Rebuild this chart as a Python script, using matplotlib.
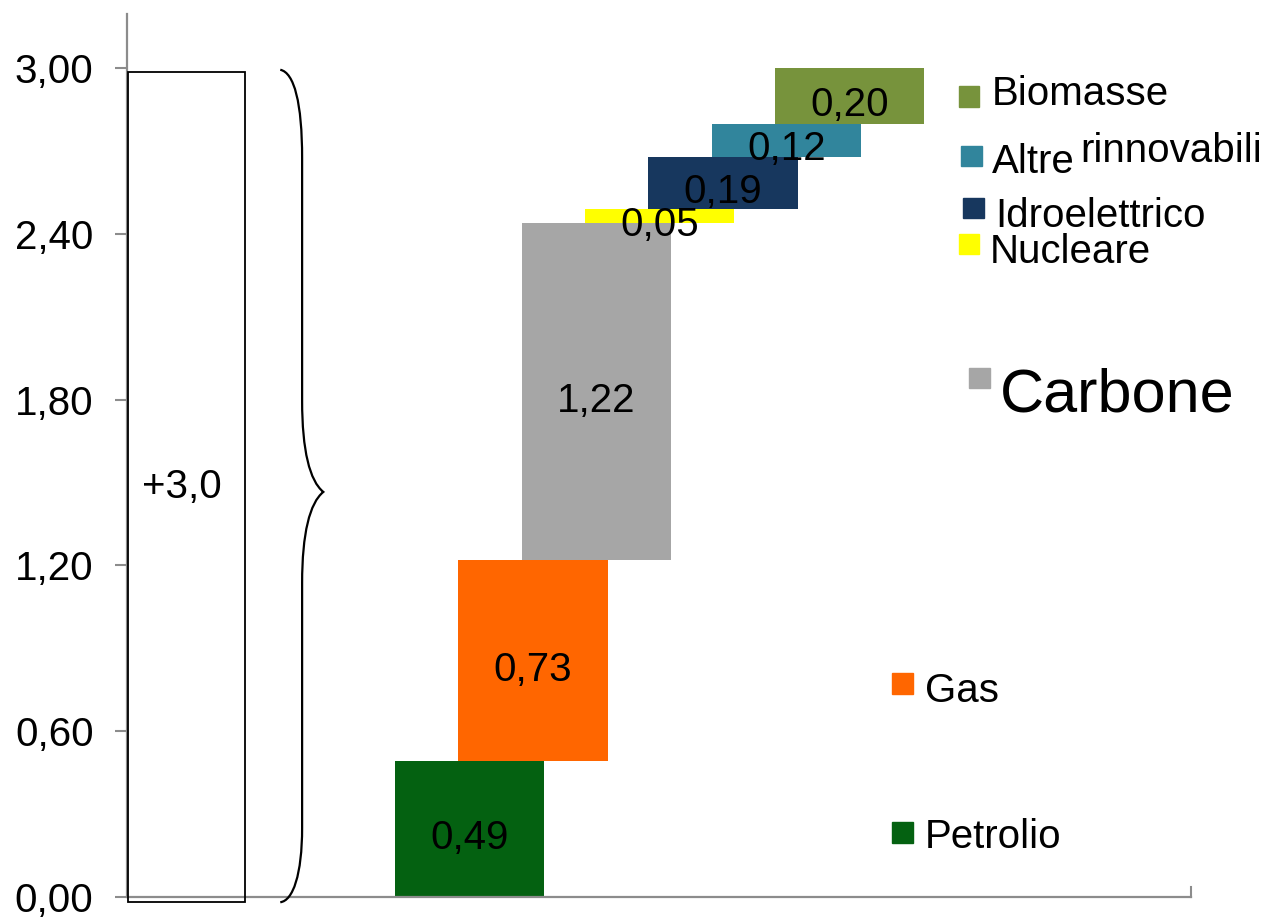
import matplotlib
matplotlib.use("Agg")
import matplotlib.pyplot as plt
from matplotlib.patches import Rectangle, PathPatch
from matplotlib.path import Path
import numpy as np

# ---------------- data ----------------
categories = ["Petrolio", "Gas", "Carbone", "Nucleare", "Idroelettrico",
              "Altre rinnovabili", "Biomasse"]
values = [0.49, 0.73, 1.22, 0.05, 0.19, 0.12, 0.20]
value_labels = ["0,49", "0,73", "1,22", "0,05", "0,19", "0,12", "0,20"]
colors = ["#046111", "#ff6600", "#a6a6a6", "#ffff00", "#17375e",
          "#31859c", "#77933c"]
yticks = [0.0, 0.6, 1.2, 1.8, 2.4, 3.0]
ytick_labels = ["0,00", "0,60", "1,20", "1,80", "2,40", "3,00"]
total_label = "+3,0"

plt.rcParams['font.family'] = ['Liberation Sans', 'DejaVu Sans']

W, H = 1265, 921
fig = plt.figure(figsize=(W / 100, H / 100), dpi=100)
ax = fig.add_axes([127 / W, (H - 896.7) / H, (1191 - 127) / W, (896.7 - 14) / H])

GRAY = "#8c8c8c"
FS = 29

# ---------------- waterfall bars ----------------
x = np.arange(len(values))
bottoms = np.concatenate([[0], np.cumsum(values)[:-1]])
total = float(np.sum(values))
ax.bar(x, values, width=2.36, bottom=bottoms, color=colors, zorder=2)

for xi, b, v, lab in zip(x, bottoms, values, value_labels):
    ax.annotate(lab, (xi, b + v / 2), xytext=(0, -14.5), textcoords="offset points",
                ha="center", va="baseline", fontsize=FS, color="black", zorder=4)

ax.set_xlim(-5.41, 11.39)
ax.set_ylim(0, 3.197)

# ---------------- total box and brace ----------------
box_left, box_w = -5.39, 1.85
ax.add_patch(Rectangle((box_left, -0.02), box_w, total + 0.007, fill=False,
                       edgecolor="black", lw=1.3, clip_on=False, zorder=3))
ax.annotate(total_label, (box_left + box_w / 2 - 0.08, total / 2), xytext=(0, -11),
            textcoords="offset points", ha="center", va="baseline", fontsize=FS)

x0, x1, x2 = -2.99, -2.645, -2.31
ytop, ybot = total - 0.005, -0.02
ymid = 1.466
verts = [
    (x0, ytop),
    (x0 + 0.22, ytop - 0.01), (x1, ytop - 0.12), (x1, ytop - 0.32),
    (x1, ymid + 0.33),
    (x1, ymid + 0.15), (x1 + 0.12, ymid + 0.04), (x2, ymid),
    (x1 + 0.12, ymid - 0.04), (x1, ymid - 0.15), (x1, ymid - 0.33),
    (x1, ybot + 0.27),
    (x1, ybot + 0.1), (x0 + 0.2, ybot + 0.005), (x0, ybot),
]
codes = [Path.MOVETO,
         Path.CURVE4, Path.CURVE4, Path.CURVE4,
         Path.LINETO,
         Path.CURVE4, Path.CURVE4, Path.CURVE4,
         Path.CURVE4, Path.CURVE4, Path.CURVE4,
         Path.LINETO,
         Path.CURVE4, Path.CURVE4, Path.CURVE4]
ax.add_patch(PathPatch(Path(verts, codes), fill=False, edgecolor="black",
                       lw=1.6, clip_on=False, zorder=3))

# ---------------- axes styling ----------------
for s in ("top", "right"):
    ax.spines[s].set_visible(False)
for s in ("left", "bottom"):
    ax.spines[s].set_color(GRAY)
    ax.spines[s].set_linewidth(1.6)
ax.set_xticks([])
ax.set_yticks(yticks, ytick_labels)
ax.tick_params(axis="y", direction="out", length=8.6, width=1.5, color=GRAY,
               labelsize=FS, pad=15.5, labelcolor="black")
ax.plot([1, 1], [0, 0.011], transform=ax.transAxes, color=GRAY, lw=1.5,
        clip_on=False)

# ---------------- legend-like labels ----------------
def px(xp, yp):
    return xp / W, 1 - yp / H

def square(xp, yp, size, color):
    fx, fy = px(xp, yp + size)
    fig.patches.append(Rectangle((fx, fy), size / W, size / H, color=color,
                                 transform=fig.transFigure, figure=fig))

# (category index, square x, square y, text x, baseline y, fontsize)
legend_layout = [
    (6, 959, 86, 992, 105, FS),
    (4, 963, 198, 995, 227, FS),
    (3, 959, 234, 990, 263, FS),
    (2, 969, 368, 1000, 411, 44),
    (1, 892, 673, 925, 702, FS),
    (0, 892, 822, 925, 848, FS),
]
for idx, sx, sy, tx, ty, fs in legend_layout:
    square(sx, sy, 20.5, colors[idx])
    fx, fy = px(tx, ty)
    fig.text(fx, fy, categories[idx], ha="left", va="baseline", fontsize=fs)

# "Altre rinnovabili" with the second word raised
square(961, 146, 20.5, colors[5])
w1, w2 = categories[5].split()
fig.text(*px(992, 173), w1, ha="left", va="baseline", fontsize=FS)
fig.text(*px(1080, 162), w2, ha="left", va="baseline", fontsize=FS)

fig.savefig("out.png", dpi=100, facecolor="white")
